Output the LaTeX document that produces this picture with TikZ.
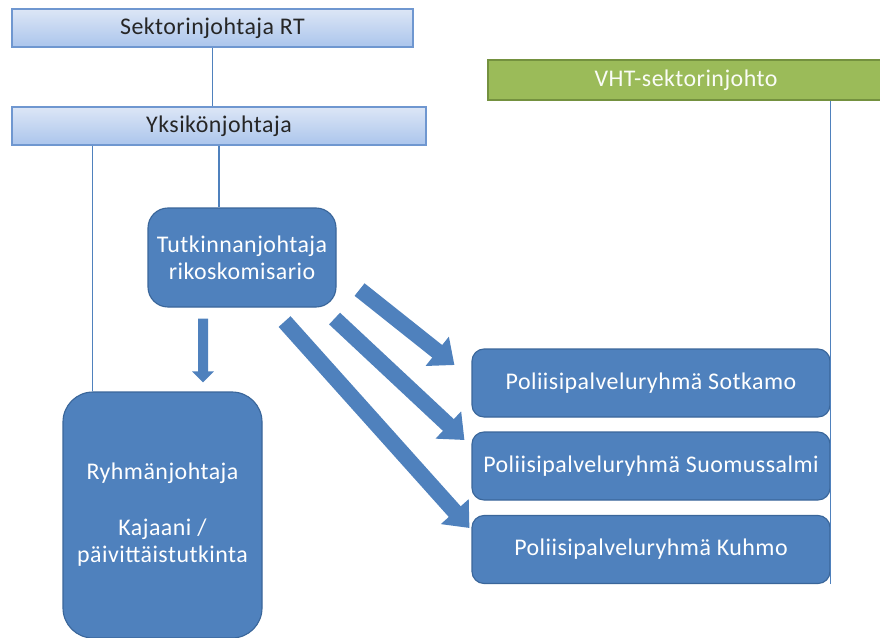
\documentclass[tikz,border=0pt]{standalone}
\usepackage{fontspec}
\setmainfont{Carlito}[LetterSpace=2]
\usetikzlibrary{arrows.meta, calc, positioning}
\definecolor{boxblue}{HTML}{4F81BD}
\definecolor{boxedge}{HTML}{3A669A}
\definecolor{headtop}{HTML}{DCE6F6}
\definecolor{headbot}{HTML}{ABC5EC}
\definecolor{headedge}{HTML}{6F97D0}
\definecolor{vhtgreen}{HTML}{9BBB59}
\definecolor{vhtedge}{HTML}{74913F}

\begin{document}
\begin{tikzpicture}[
    every node/.style={font=\fontsize{17}{19.5}\selectfont},
    head/.style={draw=headedge, line width=0.8pt, top color=headtop, bottom color=headbot, minimum height=0.95cm, inner sep=2pt, text=black!85},
    vhtbox/.style={draw=vhtedge, line width=0.8pt, fill=vhtgreen, minimum height=1.0cm, inner sep=2pt, text=white!95!vhtgreen},
    grp/.style={draw=boxedge, line width=0.8pt, fill=boxblue, text=white, align=center, inner sep=2pt},
    ln/.style={draw=boxblue, line width=0.8pt},
    blk/.style={-{Triangle[width=0.9cm, length=0.55cm]}, line width=0.4cm, draw=boxblue},
    blkdn/.style={-{Triangle[width=0.525cm, length=0.275cm]}, line width=0.25cm, draw=boxblue}
]
\useasboundingbox (0,0) rectangle (22,-15.925);
% heads
\node[head, minimum width=10.025cm] (sek) at (5.3125,-0.7) {Sektorinjohtaja RT};
\node[head, minimum width=10.35cm] (yks) at (5.475,-3.15) {Yksikönjohtaja};
\node[vhtbox, minimum width=9.9cm] (vht) at (17.15,-2.0) {VHT-sektorinjohto};
% left side
\node[grp, rounded corners=0.5cm, minimum width=4.7cm, minimum height=2.475cm] (tut) at (6.05,-6.4375) {Tutkinnanjohtaja\\rikoskomisario};
\node[grp, rounded corners=0.75cm, minimum width=4.975cm, minimum height=6.15cm] (ryh) at (4.0625,-12.875) {Ryhmänjohtaja\\[0.7cm]Kajaani /\\päivittäistutkinta};
% groups
\node[grp, rounded corners=0.3cm, minimum width=8.95cm, minimum height=1.7cm] (sot) at (16.275,-9.575) {Poliisipalveluryhmä Sotkamo};
\node[grp, rounded corners=0.3cm, minimum width=8.95cm, minimum height=1.7cm] (suo) at (16.275,-11.65) {Poliisipalveluryhmä Suomussalmi};
\node[grp, rounded corners=0.3cm, minimum width=8.95cm, minimum height=1.7cm] (kuh) at (16.275,-13.7375) {Poliisipalveluryhmä Kuhmo};
% lines
\coordinate (yl) at ([xshift=2.025cm]yks.south west);
\draw[ln] (sek.south) -- (sek.south |- yks.north);
\draw[ln] (yks.south) -- (yks.south |- tut.north);
\draw[ln] (yl) -- (yl |- ryh.north);
\draw[ln] (vht.south -| sot.east) -- (kuh.south east);
% block arrows
\coordinate (d0) at ($(tut.south)+(-0.975,-0.275)$);
\coordinate (d1) at ($(ryh.north)+(1.0125,0.225)$);
\draw[blkdn] (d0) -- (d1);
\draw[blk] ($(tut.south east)+(0.575,0.45)$) -- ($(sot.west)+(-0.425,0.45)$);
\draw[blk] ($(tut.south east)+(-0.05,-0.275)$) -- ($(suo.west)+(-0.175,0.65)$);
\draw[blk] ($(tut.south east)+(-1.3,-0.35)$) -- ($(kuh.west)+(-0.05,0.5375)$);
\end{tikzpicture}
\end{document}
